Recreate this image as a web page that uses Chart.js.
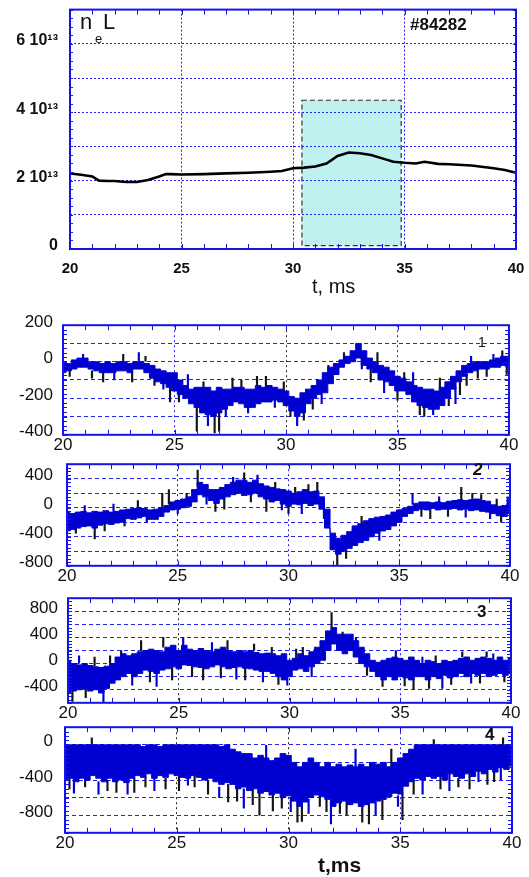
<!DOCTYPE html>
<html>
<head>
<meta charset="utf-8">
<script src="https://cdn.jsdelivr.net/npm/chart.js@4.4.0/dist/chart.umd.min.js"></script>
<style>
  html, body { margin: 0; padding: 0; background: #fff; }
  #page { position: relative; width: 529px; height: 877px; overflow: hidden;
          font-family: Arial, 'Liberation Sans', sans-serif; }
  canvas { position: absolute; left: 0; }
  .lbl { position: absolute; line-height: 1; white-space: nowrap; color: #111; }
</style>
</head>
<body>
<div id="page">
  <canvas id="c0" width="540" height="312" style="top:-12px"></canvas>
  <canvas id="c1" width="540" height="150" style="top:305px"></canvas>
  <canvas id="c2" width="540" height="150" style="top:440px"></canvas>
  <canvas id="c3" width="540" height="145" style="top:578px"></canvas>
  <canvas id="c4" width="540" height="150" style="top:705px"></canvas>

  <span class="lbl" style="left:80px;top:11px;font-size:22px">n</span>
  <span class="lbl" style="left:95px;top:32px;font-size:13px">e</span>
  <span class="lbl" style="left:103px;top:11px;font-size:22px">L</span>
  <span class="lbl" style="left:410px;top:16px;font-size:17px;font-weight:bold">#84282</span>
  <span class="lbl" style="left:312px;top:276px;font-size:20px">t, ms</span>

  <span class="lbl" style="left:478px;top:335px;font-size:14px">1</span>
  <span class="lbl" style="left:473px;top:461px;font-size:17px;font-weight:bold;font-style:italic">2</span>
  <span class="lbl" style="left:477px;top:603px;font-size:17px;font-weight:bold">3</span>
  <span class="lbl" style="left:485px;top:726px;font-size:17px;font-weight:bold">4</span>
  <span class="lbl" style="left:318px;top:854px;font-size:21px;font-weight:bold">t,ms</span>
</div>
<script>
// line-averaged density n_e L, units of 1e13
const neT = [20, 20.5, 21, 21.3, 21.7, 22, 22.5, 23, 23.5, 24, 24.3, 24.5, 25, 26, 27, 28, 29, 29.5, 30,
             30.5, 31, 31.5, 32, 32.5, 33, 33.5, 34, 34.5, 35, 35.5, 35.9, 36.5, 37, 38, 39, 39.5, 40];
const neL = [2.21, 2.17, 2.12, 2.0, 1.99, 1.99, 1.96, 1.96, 2.02, 2.12, 2.19, 2.19, 2.18, 2.19, 2.21, 2.23, 2.26, 2.28, 2.36,
             2.38, 2.41, 2.5, 2.72, 2.82, 2.8, 2.75, 2.65, 2.55, 2.52, 2.5, 2.55, 2.49, 2.48, 2.44, 2.36, 2.31, 2.23];
const shadeT = [30.4, 34.85];
const shadeY = [0.1, 4.35];

// probe signals: envelope every 0.25 ms from 20 to 40 ms
const tSig = Array.from({ length: 81 }, (_, i) => 20 + i * 0.25);

const s1Hi = [0,-10,10,20,20,0,0,-10,0,-10,0,0,-10,0,0,-10,
  -20,-40,-50,-60, -60,-100,-130,-150, -140,-140,-140,-160, -140,-150,-150,-140,
  -140,-150,-150,-130, -140,-130,-140,-150, -160,-190,-200,-170, -150,-130,-100,-60,
  -30,-10,10,30, 60,100,60,20, 0,-20,-30,-50, -80,-90,-110,-130,
  -140,-150,-150,-160, -140,-110,-80,-50, -20,-10,0,0, 0,10,20,30, 30];
const s1Lo = [-60,-50,-40,-30,-30,-40,-50,-60,-60,-60,-50,-50,-60,-40,-40,-60,
  -90,-110,-120,-140, -160,-180,-200,-230, -250,-280,-290,-300, -280,-260,-240,-220,
  -230,-250,-250,-230, -220,-220,-210,-220, -240,-270,-300,-280, -230,-200,-180,-170,
  -120,-70,-30,-10, 0,20,-20,-40, -60,-100,-110,-130, -160,-160,-180,-220,
  -240,-250,-260,-260, -240,-200,-150,-110, -80,-60,-50,-40, -40,-30,-30,-20, -30];
const s1Spikes = [[20.3,-40,-80],[20.9,10,40],[21.3,-50,-90],[21.8,-50,-110],[22.3,-50,-100],[22.7,-10,40],
  [23.1,-50,-110],[23.4,0,50],[23.7,0,30],[24.1,-80,-130],[24.5,-100,-150],[24.8,-100,-220],
  [25.2,-150,-220],[25.6,-150,-70],[26.0,-250,-380],[26.3,-150,-110],[26.5,-280,-350],[26.8,-300,-390],[27.0,-270,-380],
  [27.3,-250,-300],[27.6,-150,-90],[28.0,-150,-100],[28.3,-250,-280],[28.7,-150,-80],[29.1,-150,-80],[29.5,-200,-250],
  [29.9,-200,-110],[30.2,-250,-300],[30.5,-290,-350],[30.8,-280,-320],[31.2,-190,-260],
  [31.6,-180,-230],[31.9,-100,-20],[32.6,0,50],[33.4,20,-40],[33.8,-30,-110],[34.1,-40,50],[34.4,-90,-170],
  [35.0,-150,-210],[35.3,-150,-60],[35.7,-130,-60],[36.0,-230,-290],
  [36.2,-240,-300],[36.6,-250,-290],[36.9,-150,-90],[37.3,-150,-240],[37.6,-140,-230],[37.8,-100,-180],[38.1,-70,-130],
  [38.3,-10,30],[38.6,-40,-90],[39.0,-40,-80],[39.3,0,40],[39.7,20,60],[39.9,-20,-70]];

const s2Hi = [-50,-80,-60,-50,-70,-50,-60,-40,-60,-50,-30,-20,-10,0,-10,-30,
  -20,0,30,80, 100,120,150,250, 350,320,250,250, 280,320,350,380,
  380,350,380,330, 300,280,260,250, 230,200,220,250, 220,230,150,-20,
  -350,-420,-380,-330, -250,-220,-180,-150, -130,-120,-100,-60, -30,-10,20,60,
  80,80,70,80, 70,90,100,110, 100,110,120,100, 90,40,20,30, 100];
const s2Lo = [-320,-300,-280,-260,-250,-280,-240,-220,-230,-210,-200,-150,-160,-140,-120,-160,
  -160,-120,-60,-30, -20,0,20,80, 180,150,100,60, 120,150,180,200,
  170,180,200,150, 120,80,100,50, 20,50,40,60, 30,50,-20,-280,
  -580,-640,-600,-560, -520,-480,-450,-400, -350,-320,-300,-250, -200,-120,-80,-40,
  -20,-30,-10,-30, -20,-20,-10,-30, -20,-40,-30,-50, -60,-80,-110,-120, -80];
const s2Spikes = [[20.4,-200,-350],[20.8,-60,30],[21.25,-250,-430],[21.7,-200,-320],[22.1,-50,50],[22.6,-150,-250],
  [23.2,-50,100],[23.6,-100,-200],[24.3,0,200],[24.6,50,250],[25.0,0,-80],[25.4,100,200],[25.9,300,520],
  [26.3,150,50],[26.7,100,-50],[27.1,150,-20],[27.5,300,420],[28.0,350,480],[28.3,200,80],
  [28.6,300,450],[29.0,150,-50],[29.4,200,350],[29.7,100,-30],[30.0,50,-80],[30.3,150,280],[30.6,100,-80],
  [30.9,200,320],[31.3,200,350],[31.6,0,-150],
  [32.2,-600,-790],[32.6,-500,-700],[32.9,-400,-300],[33.3,-300,-120],[33.7,-350,-150],[34.1,-300,-450],
  [34.5,-300,-200],[34.9,-150,-50],[35.6,50,200],[36.0,-10,-120],
  [36.4,50,-150],[36.8,50,150],[37.2,-20,-120],[37.8,100,280],[38.0,-30,-130],[38.3,50,200],[38.7,80,180],
  [39.1,-50,-150],[39.4,30,120],[39.6,-80,-200],[39.9,50,150]];

const s3Hi = [50,0,-20,0, -30,-50,-60,-40, 0,100,150,120, 150,180,200,220,
  200,180,250,280, 200,280,220,200, 230,200,180,220, 250,200,180,200,
  180,200,170,150, 160,150,120,150, 50,80,150,120, 180,250,350,500,
  550,450,450,450, 350,250,150,50, 20,50,80,100, 80,50,100,50,
  0,50,30,0, 50,30,50,80, 100,50,80,100, 80,50,100,50, 80];
const s3Lo = [-450,-420,-400,-380, -420,-400,-450,-380, -300,-250,-200,-150, -200,-150,-100,-120,
  -150,-100,-80,-50, -80,-20,-30,-50, -60,-80,-50,-20, -50,-80,-60,-50,
  -70,-80,-100,-120, -120,-150,-200,-250, -200,-100,-80,-120, -50,0,50,200,
  300,200,150,200, 100,0,-50,-120, -200,-250,-200,-250, -200,-220,-250,-200,
  -200,-250,-200,-230, -180,-220,-200,-150, -200,-150,-180,-150, -200,-180,-150,-180, -150];
const s3Spikes = [[20.2,-400,-580],[20.5,0,120],[20.8,-300,-520],[21.2,-40,100],[21.6,-400,-600],[21.9,0,120],
  [22.4,50,200],[22.9,-150,-330],[23.3,200,350],[23.7,-100,-280],[24.0,0,-350],[24.3,250,400],[24.7,-50,-250],
  [25.2,250,400],[25.6,-20,-200],[26.1,-50,-250],[26.5,180,320],[26.9,-20,-220],
  [27.2,200,350],[27.6,-60,-240],[28.0,-50,-250],[28.4,200,300],[28.8,-120,-280],[29.2,100,250],[29.5,-200,-320],
  [29.9,-200,-330],[30.3,80,220],[30.6,100,250],[31.0,-50,-200],[31.9,500,780],
  [32.4,400,480],[33.0,200,400],[33.5,-50,-180],[34.2,-250,-350],[34.8,100,200],[35.2,-220,-340],[35.6,-200,-400],
  [36.0,0,100],[36.3,-230,-380],[36.6,30,120],[36.9,-200,-380],[37.3,-220,-320],
  [37.8,100,180],[38.2,-150,-300],[38.6,-150,-300],[38.9,100,180],[39.2,50,150],[39.7,-150,-280]];

const s4Hi = [0,0,0,0, 0,0,0,0, 0,0,0,0, 0,0,-20,0,
  0,-20,0,0, 0,0,0,0, 0,0,0,0, -20,0,-50,-80,
  -100,-100,-150,-120, -150,-180,-150,-100, -120,-200,-250,-200, -150,-200,-250,-200,
  -250,-220,-250,-230, -250,-220,-250,-200, -220,-200,-250,-200, -150,-100,-50,0,
  0,0,0,0, 0,0,0,0, 0,0,0,0, 0,0,0,0, 0];
const s4Lo = [-400,-380,-420,-380, -400,-350,-380,-420, -380,-420,-400,-430, -380,-350,-370,-330,
  -380,-350,-370,-330, -350,-370,-380,-350, -370,-400,-380,-420, -450,-430,-450,-500,
  -480,-520,-500,-550, -530,-570,-550,-600, -580,-640,-700,-650, -600,-570,-590,-620,
  -700,-660,-640,-680, -660,-700,-680,-660, -640,-620,-590,-550, -560,-470,-420,-380,
  -400,-360,-380,-360, -400,-330,-360,-380, -330,-360,-300,-330, -280,-310,-260,-280, -240];
const s4Spikes = [[20.2,-380,-500],[20.4,-400,-550],[20.9,-380,-480],[21.2,0,80],[21.5,-420,-560],[21.9,-400,-520],
  [22.3,-400,-540],[22.8,-400,-560],[23.1,-380,-540],[23.6,-360,-480],[24.0,-380,-520],[24.5,-380,-500],
  [25.1,-350,-520],[25.5,-380,-460],[25.8,-350,-480],[26.4,-400,-560],[26.9,-480,-600],[27.3,-450,-650],
  [27.7,-500,-640],[28.0,-500,-720],[28.4,-500,-680],[28.7,-550,-800],[29.0,-150,0],[29.3,-570,-750],
  [29.7,-600,-720],[30.1,-600,-760],[30.4,-650,-880],[30.6,-650,-870],[30.9,-620,-780],
  [31.4,-570,-700],[31.7,-620,-760],[31.9,-650,-900],[32.3,-640,-780],[32.6,-640,-800],[33.0,-250,-50],
  [33.3,-700,-880],[33.6,-680,-900],[33.9,-650,-800],[34.2,-620,-850],[34.6,-250,-50],[34.9,-580,-700],
  [35.1,-560,-850],[35.6,-420,-560],[36.0,-400,-560],[36.5,0,60],[36.8,-360,-500],[37.2,-330,-520],
  [37.6,-380,-480],[38.1,-330,-500],[38.5,-300,-420],[38.9,-280,-450],[39.2,-300,-420],[39.5,-260,-400],[39.6,0,80]];

const BLUE = '#0000d0';
const DARK = '#151515';
const FRAME = '#1414e6';
const GRID = '#2424f0';
const FONT = "Arial, 'Liberation Sans', sans-serif";
const CANVAS_W = 540;

// frame, minor ticks and the shaded window, drawn through the chart scales
const framePlugin = {
  id: 'frame',
  beforeDraw(chart, args, opts) {
    if (!opts.shade) return;
    const { x, y } = chart.scales;
    const ctx = chart.ctx;
    const x0 = x.getPixelForValue(opts.shade.t[0]), x1 = x.getPixelForValue(opts.shade.t[1]);
    const y0 = y.getPixelForValue(opts.shade.y[0]), y1 = y.getPixelForValue(opts.shade.y[1]);
    ctx.save();
    ctx.fillStyle = '#bff1ef';
    ctx.fillRect(x0, y1, x1 - x0, y0 - y1);
    ctx.setLineDash([5, 3]);
    ctx.strokeStyle = '#333';
    ctx.lineWidth = 1.2;
    ctx.strokeRect(x0, y1, x1 - x0, y0 - y1);
    ctx.restore();
  },
  afterDraw(chart, args, opts) {
    const { x, y } = chart.scales;
    const a = chart.chartArea;
    const ctx = chart.ctx;
    ctx.save();
    ctx.strokeStyle = FRAME;
    ctx.lineWidth = 1;
    ctx.beginPath();
    for (let v = x.min; v <= x.max + 1e-9; v += opts.xStep) {
      const px = Math.round(x.getPixelForValue(v)) + 0.5;
      ctx.moveTo(px, a.bottom); ctx.lineTo(px, a.bottom - opts.xLen);
      ctx.moveTo(px, a.top); ctx.lineTo(px, a.top + opts.xLen);
    }
    for (let v = opts.yFrom; v <= y.max + 1e-9; v += opts.yStep) {
      const py = Math.round(y.getPixelForValue(v)) + 0.5;
      ctx.moveTo(a.left, py); ctx.lineTo(a.left + opts.yLen, py);
      ctx.moveTo(a.right, py); ctx.lineTo(a.right - opts.yLen, py);
    }
    ctx.stroke();
    ctx.lineWidth = 2;
    ctx.strokeRect(a.left, a.top, a.right - a.left, a.bottom - a.top);
    ctx.restore();
  }
};

function fixBoxes(geo) {
  return {
    padding: { left: 0, right: CANVAS_W - geo.right, top: geo.top - geo.canvasTop, bottom: 0 },
    yWidth: geo.left,
    xHeight: geo.canvasTop + geo.canvasH - geo.bottom
  };
}

// top panel: n_e L
(function () {
  const geo = { canvasTop: -12, canvasH: 312, left: 70, right: 516, top: 8, bottom: 249 };
  const f = fixBoxes(geo);
  new Chart(document.getElementById('c0'), {
    type: 'line',
    data: {
      datasets: [{
        data: neT.map((t, i) => ({ x: t, y: neL[i] })),
        borderColor: '#000',
        borderWidth: 2.6,
        pointRadius: 0,
        tension: 0
      }]
    },
    options: {
      responsive: false,
      animation: false,
      layout: { padding: f.padding },
      plugins: {
        legend: { display: false },
        tooltip: { enabled: false },
        frame: { xStep: 1, xLen: 5, yFrom: 0, yStep: 0.25, yLen: 3, shade: { t: shadeT, y: shadeY } }
      },
      scales: {
        x: {
          type: 'linear', min: 20, max: 40, offset: false,
          afterFit: s => { s.height = f.xHeight; },
          ticks: { stepSize: 5, autoSkip: false, maxRotation: 0, padding: 11, color: '#111',
                   font: { family: FONT, size: 15, weight: 'bold' } },
          grid: { color: GRID, lineWidth: 1, drawTicks: false, offset: false },
          border: { display: false, dash: [2, 2] }
        },
        y: {
          min: 0, max: 7,
          afterFit: s => { s.width = f.yWidth; },
          ticks: {
            stepSize: 1, autoSkip: false, padding: 12, labelOffset: -3, color: '#111',
            font: { family: FONT, size: 16, weight: 'bold' },
            callback: v => v % 2 !== 0 ? '' : (v === 0 ? '0' : v + ' 10\u00b9\u00b3')
          },
          grid: { color: GRID, lineWidth: 1, drawTicks: false },
          border: { display: false, dash: [2, 2] }
        }
      }
    },
    plugins: [framePlugin]
  });
})();

function signalChart(id, geo, lo, hi, spikes, yOpt, darkLines) {
  const f = fixBoxes(geo);
  new Chart(document.getElementById(id), {
    type: 'line',
    data: {
      datasets: [
        {
          data: tSig.map((t, i) => ({ x: t, y: lo[i] })),
          borderColor: BLUE, borderWidth: 1, pointRadius: 0, stepped: 'middle', order: 1
        },
        {
          data: tSig.map((t, i) => ({ x: t, y: hi[i] })),
          borderColor: BLUE, borderWidth: 1, pointRadius: 0, stepped: 'middle',
          fill: '-1', backgroundColor: BLUE, order: 1
        },
        {
          type: 'bar',
          data: spikes.map(s => ({ x: s[0], y: [s[1], s[2]] })),
          backgroundColor: c => c.dataIndex % 3 === 1 ? BLUE : DARK,
          barThickness: 1.5, grouped: false, order: 2
        }
      ]
    },
    options: {
      responsive: false,
      animation: false,
      layout: { padding: f.padding },
      plugins: {
        legend: { display: false },
        tooltip: { enabled: false },
        frame: { xStep: 1, xLen: 5, yFrom: yOpt.min, yStep: yOpt.step / 4, yLen: 4 }
      },
      scales: {
        x: {
          type: 'linear', min: 20, max: 40, offset: false,
          afterFit: s => { s.height = f.xHeight; },
          ticks: { stepSize: 5, autoSkip: false, maxRotation: 0, padding: 0, color: '#111',
                   font: { family: FONT, size: 17 } },
          grid: {
            drawTicks: false, lineWidth: 1, offset: false,
            color: c => (c.tick && darkLines.includes(c.tick.value)) ? '#222' : GRID
          },
          border: { display: false, dash: [2, 3] }
        },
        y: {
          min: yOpt.min, max: yOpt.max,
          afterFit: s => { s.width = f.yWidth; },
          ticks: {
            stepSize: yOpt.step, autoSkip: false, padding: yOpt.pad, labelOffset: -3, color: '#111',
            font: { family: FONT, size: 17 },
            callback: v => (v % yOpt.labelEvery === 0) ? String(v) : ''
          },
          grid: { drawTicks: false, lineWidth: 1, color: GRID },
          border: { display: false, dash: [4, 3] }
        }
      }
    },
    plugins: [framePlugin]
  });
}

signalChart('c1', { canvasTop: 305, canvasH: 150, left: 63, right: 509, top: 325, bottom: 435 },
  s1Lo, s1Hi, s1Spikes, { min: -400, max: 200, step: 100, labelEvery: 200, pad: 10 }, [30]);
signalChart('c2', { canvasTop: 440, canvasH: 150, left: 67, right: 510, top: 458, bottom: 571 },
  s2Lo, s2Hi, s2Spikes, { min: -800, max: 600, step: 200, labelEvery: 400, pad: 14 }, [25, 35]);
signalChart('c3', { canvasTop: 578, canvasH: 145, left: 68, right: 511, top: 595, bottom: 705 },
  s3Lo, s3Hi, s3Spikes, { min: -600, max: 1000, step: 200, labelEvery: 400, pad: 10 }, [25, 30]);
signalChart('c4', { canvasTop: 705, canvasH: 150, left: 65, right: 512, top: 723, bottom: 837 },
  s4Lo, s4Hi, s4Spikes, { min: -1000, max: 200, step: 200, labelEvery: 400, pad: 12 }, [25, 30]);
</script>
</body>
</html>
